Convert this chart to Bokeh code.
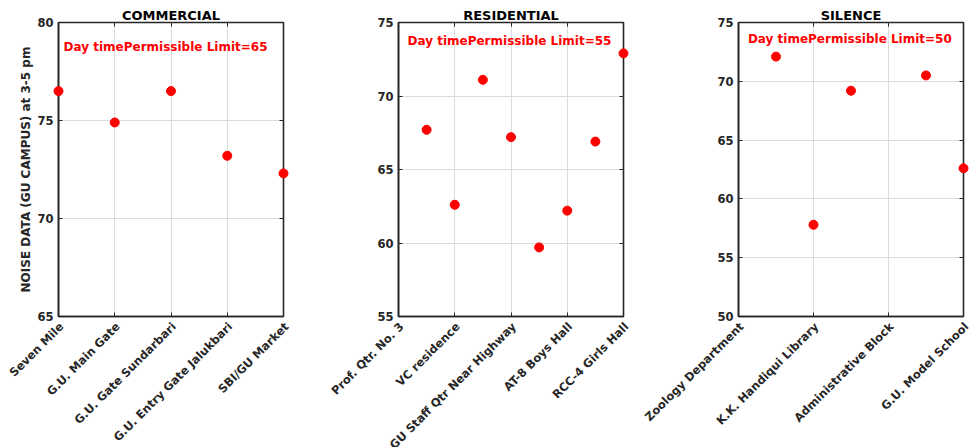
import math
from bokeh.plotting import figure
from bokeh.models import FixedTicker, LinearAxis, Range1d
from bokeh.layouts import row
from bokeh.core.properties import value
from bokeh.embed import file_html
from bokeh.resources import INLINE

# ---------------- data ----------------
commercial_sites = ["Seven Mile", "G.U. Main Gate", "G.U. Gate Sundarbari",
                    "G.U. Entry Gate Jalukbari", "SBI/GU Market"]
commercial_ticks = [1, 2, 3, 4, 5]
commercial_x = [1, 2, 3, 4, 5]
commercial_noise = [76.5, 74.9, 76.5, 73.2, 72.3]
commercial_yticks = [65, 70, 75, 80]

residential_sites = ["Prof. Qtr. No. 3", "VC residence", "GU Staff Qtr Near Highway",
                     "AT-8 Boys Hall", "RCC-4 Girls Hall"]
residential_ticks = [0, 2, 4, 6, 8]
residential_x = [1, 2, 3, 4, 5, 6, 7, 8]
residential_noise = [67.7, 62.6, 71.1, 67.2, 59.7, 62.2, 66.9, 72.9]
residential_yticks = [55, 60, 65, 70, 75]

silence_sites = ["Zoology Department", "K.K. Handiqui Library",
                 "Administrative Block", "G.U. Model School"]
silence_ticks = [0, 2, 4, 6]
silence_x = [1, 2, 3, 5, 6]
silence_noise = [72.1, 57.8, 69.2, 70.5, 62.6]
silence_yticks = [50, 55, 60, 65, 70, 75]

titles = ["COMMERCIAL", "RESIDENTIAL", "SILENCE"]
limit_texts = ["Day timePermissible Limit=65", "Day timePermissible Limit=55",
               "Day timePermissible Limit=50"]
y_label = "NOISE DATA (GU CAMPUS) at 3-5 pm"

# ---------------- style ----------------
FONT = "DejaVu Sans"
AX = "#262626"
GRID = "#dcdcdc"
RED = "#ff0000"


def hidden_axis(ticks):
    return LinearAxis(ticker=FixedTicker(ticks=ticks), major_label_text_font_size="0px",
                      major_label_text_color=None, major_label_standoff=0,
                      major_tick_in=4, major_tick_out=0, minor_tick_line_color=None,
                      axis_line_color=None, major_tick_line_color=AX)


def panel(title, sites, ticks, xs, ys, yticks, limit_text, lim_xy,
          width, left, right, ylabel=None):
    p = figure(width=width, height=447, output_backend="svg", toolbar_location=None,
               x_range=Range1d(ticks[0], ticks[-1]),
               y_range=Range1d(yticks[0], yticks[-1]),
               min_border_left=left, min_border_right=right,
               min_border_top=22, min_border_bottom=131,
               background_fill_color="white", border_fill_color=None)
    p.outline_line_color = AX
    p.outline_line_width = 1.6

    xa = p.xaxis[0]
    xa.ticker = FixedTicker(ticks=ticks)
    xa.major_label_text_font_size = "0px"
    xa.major_label_text_color = None
    xa.major_label_standoff = 0
    ya = p.yaxis[0]
    ya.ticker = FixedTicker(ticks=yticks)
    ya.major_label_text_font = FONT
    ya.major_label_text_font_style = "bold"
    ya.major_label_text_font_size = "11.5px"
    ya.major_label_text_color = AX
    ya.major_label_standoff = 5
    for a in (xa, ya):
        a.major_tick_in = 4
        a.major_tick_out = 0
        a.major_tick_line_color = AX
        a.minor_tick_line_color = None
        a.axis_line_color = AX
        a.axis_line_width = 1.6
    if ylabel:
        ya.axis_label = ylabel
        ya.axis_label_text_font = FONT
        ya.axis_label_text_font_style = "bold"
        ya.axis_label_text_font_size = "12px"
        ya.axis_label_text_color = AX
        ya.axis_label_standoff = 1

    p.xgrid.grid_line_color = GRID
    p.ygrid.grid_line_color = GRID

    # inward box ticks on the right and top sides
    p.add_layout(hidden_axis(yticks), "right")
    p.add_layout(hidden_axis(ticks), "above")

    # points
    p.scatter(xs, ys, size=9, fill_color=RED, line_color=RED, level="overlay")

    # limit annotation
    p.text(x=[lim_xy[0]], y=[lim_xy[1]], text=[limit_text], text_font=value(FONT),
           text_font_style="bold", text_font_size="12px", text_color=RED,
           text_align="left", text_baseline="alphabetic", y_offset=-4)

    # title
    p.text(x=[(ticks[0] + ticks[-1]) / 2], y=[yticks[-1]], text=[title],
           text_font=value(FONT), text_font_style="bold", text_font_size="13px",
           text_color="black", text_align="center", text_baseline="alphabetic",
           y_offset=-7.5, level="overlay")

    # rotated x tick labels
    p.text(x=ticks[:len(sites)], y=[yticks[0]] * len(sites), text=sites,
           angle=math.pi / 4, text_font=value(FONT), text_font_style="bold",
           text_font_size="11.5px", text_color=AX, text_align="right",
           text_baseline="middle", x_offset=3, y_offset=8, level="overlay")
    return p


p1 = panel(titles[0], commercial_sites, commercial_ticks, commercial_x, commercial_noise,
           commercial_yticks, limit_texts[0], (1.09, 78.53), 300, 58, 17, ylabel=y_label)
p2 = panel(titles[1], residential_sites, residential_ticks, residential_x, residential_noise,
           residential_yticks, limit_texts[1], (0.32, 73.46), 335, 98, 12)
p3 = panel(titles[2], silence_sites, silence_ticks, silence_x, silence_noise,
           silence_yticks, limit_texts[2], (0.25, 73.25), 334, 103, 6)

layout = row(p1, p2, p3)
open("out.html", "w").write(file_html(layout, INLINE))
